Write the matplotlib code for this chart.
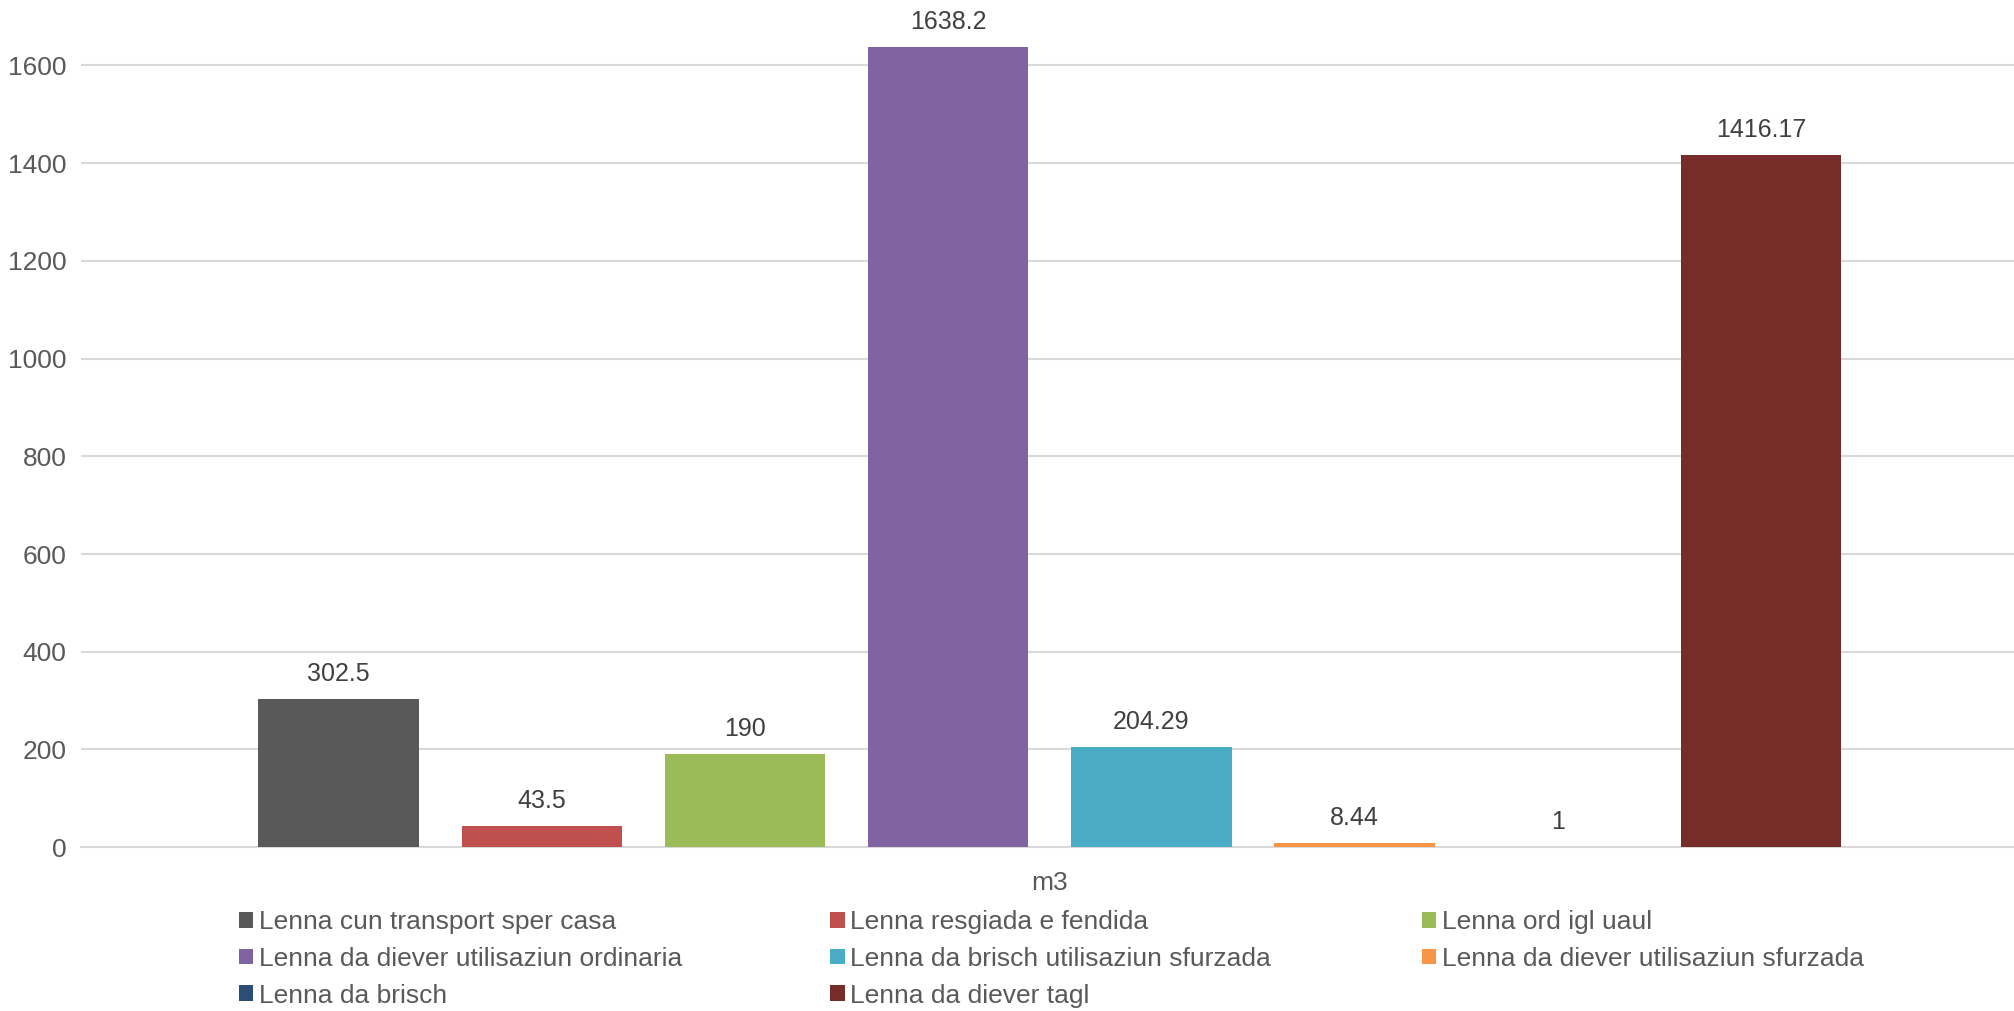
import matplotlib.pyplot as plt

plt.rcParams['font.family'] = ['Liberation Sans', 'DejaVu Sans']

categories = ['Lenna cun transport sper casa', 'Lenna resgiada e fendida',
              'Lenna ord igl uaul', 'Lenna da diever utilisaziun ordinaria',
              'Lenna da brisch utilisaziun sfurzada', 'Lenna da diever utilisaziun sfurzada',
              'Lenna da brisch', 'Lenna da diever tagl']
values = [302.5, 43.5, 190, 1638.2, 204.29, 8.44, 1, 1416.17]
labels = ['302.5', '43.5', '190', '1638.2', '204.29', '8.44', '1', '1416.17']
colors = ['#595959', '#C0504D', '#9BBB59', '#8064A2',
          '#4BACC6', '#F79646', '#2C4D75', '#772C2A']
group = 'm3'
yticks = [0, 200, 400, 600, 800, 1000, 1200, 1400, 1600]

fig = plt.figure(figsize=(20.15, 10.11), dpi=100)
ax = fig.add_axes([0.040, 0.162, 0.960, 0.838])

n = len(values)
handles = []
for i in range(n):
    x = i - (n - 1) / 2
    b = ax.bar(x, values[i], width=0.79, color=colors[i], label=categories[i], zorder=3)
    handles.append(b)
    ax.annotate(labels[i], (x, values[i]), xytext=(0, 25), textcoords='offset pixels',
                ha='center', va='center', fontsize=18, color='#404040')

ax.set_xlim(-4.77, 4.75)
ax.set_ylim(0, 1734)
ax.set_yticks(yticks)
ax.set_yticklabels([str(t) for t in yticks])
ax.set_xticks([0])
ax.set_xticklabels([group])
ax.tick_params(axis='y', length=0, labelsize=19, labelcolor='#595959', pad=10)
ax.tick_params(axis='x', length=0, labelsize=19, labelcolor='#595959', pad=17)
ax.grid(axis='y', color='#D9D9D9', linewidth=1.5, zorder=0)
for s in ['top', 'right', 'left']:
    ax.spines[s].set_visible(False)
ax.spines['bottom'].set_color('#D9D9D9')
ax.spines['bottom'].set_linewidth(1.5)

# legend laid out row by row, three fixed columns
col_x = [0.1186, 0.412, 0.7057]
for c in range(3):
    idx = list(range(c, n, 3))
    leg = fig.legend(handles=[handles[k] for k in idx], loc='upper left',
                     bbox_to_anchor=(col_x[c], 0.100), frameon=False, fontsize=19,
                     handlelength=0.55, handleheight=0.55, handletextpad=0.2,
                     labelspacing=0.49, borderpad=0, borderaxespad=0)
    for t in leg.get_texts():
        t.set_color('#595959')

fig.savefig('out.png', dpi=100)
